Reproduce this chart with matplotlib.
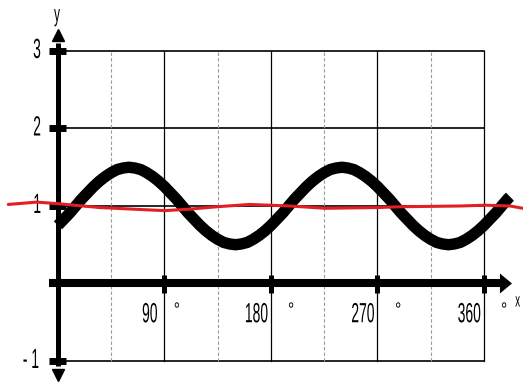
import matplotlib
matplotlib.use("Agg")
import matplotlib.pyplot as plt
from matplotlib import patheffects
from matplotlib.transforms import Affine2D

# === DATA ===
# thick black wave, degrees -> y
wave_x = [0, 5, 10, 15, 20, 25, 30, 35, 40, 45, 50, 55, 60, 65, 70, 75, 80, 85,
          90, 95, 100, 105, 110, 115, 120, 125, 130, 135, 140, 145, 150, 155,
          160, 165, 170, 175, 180, 185, 190, 195, 200, 205, 210, 215, 220, 225,
          230, 235, 240, 245, 250, 255, 260, 265, 270, 275, 280, 285, 290, 295,
          300, 305, 310, 315, 320, 325, 330, 335, 340, 345, 350, 355, 360, 365,
          370, 375, 380, 382]
wave_y = [0.75, 0.83, 0.91, 1.00, 1.09, 1.17, 1.25, 1.32, 1.38, 1.43, 1.47, 1.49,
          1.50, 1.49, 1.47, 1.43, 1.38, 1.32, 1.25, 1.17, 1.09, 1.00, 0.91, 0.83,
          0.75, 0.68, 0.62, 0.57, 0.53, 0.51, 0.50, 0.51, 0.53, 0.57, 0.62, 0.68,
          0.75, 0.83, 0.91, 1.00, 1.09, 1.17, 1.25, 1.32, 1.38, 1.43, 1.47, 1.49,
          1.50, 1.49, 1.47, 1.43, 1.38, 1.32, 1.25, 1.17, 1.09, 1.00, 0.91, 0.83,
          0.75, 0.68, 0.62, 0.57, 0.53, 0.51, 0.50, 0.51, 0.53, 0.57, 0.62, 0.68,
          0.75, 0.83, 0.91, 1.00, 1.09, 1.12]

# thin red hand drawn line
red_x = [-42, -18, 0, 35, 90, 112, 134, 162, 196, 226, 270, 289, 340, 361, 382, 393]
red_y = [1.02, 1.05, 1.03, 0.98, 0.94, 0.96, 0.99, 1.02, 1.00, 0.97, 0.98, 0.99,
         1.00, 1.01, 1.00, 0.97]

x_ticks = [90, 180, 270, 360]
x_labels = ["90", "180", "270", "360"]
x_minor = [45, 135, 225, 315]
y_ticks = [3, 2, 1, -1]
y_labels = ["3", "2", "1", "- 1"]


# condensed look of the original font: squeeze glyphs horizontally
class Squeeze(patheffects.AbstractPathEffect):
    def __init__(self, sx=0.5):
        super().__init__()
        self.sx = sx

    def draw_path(self, renderer, gc, tpath, affine, rgbFace=None):
        bb = tpath.get_extents(affine)
        cx = 0.5 * (bb.x0 + bb.x1)
        a = affine + Affine2D().translate(-cx, 0).scale(self.sx, 1).translate(cx, 0)
        renderer.draw_path(gc, tpath, a, rgbFace)


font = dict(family="Liberation Sans", color="black", ha="center", va="center",
            path_effects=[Squeeze(0.5)])
font_deg = dict(family="Liberation Sans", color="black", ha="center", va="center",
                path_effects=[Squeeze(0.8)])

fig = plt.figure(figsize=(5.23, 3.84), dpi=100)
ax = fig.add_axes([0, 0, 1, 1])
ax.set_xlim(-49.0, 393.0)
ax.set_ylim(-1.297, 3.658)
ax.axis("off")

# === GRID ===
for yv in y_ticks:
    ax.plot([0, 360], [yv, yv], color="black", lw=1.2, zorder=1)
for xv in x_ticks:
    ax.plot([xv, xv], [-1, 3], color="black", lw=0.9, zorder=1)
for xv in x_minor:
    ax.plot([xv, xv], [-1, 3], color="#9a9a9a", lw=0.8, ls=(0, (3, 2)), zorder=1)

# === AXES ===
ax.plot([0, 0], [-1.065, 3.103], color="black", lw=3.6, solid_capstyle="butt", zorder=4)
ax.plot([0], [3.20], marker="^", ms=9, color="black", zorder=4)
ax.plot([0], [-1.18], marker="v", ms=9, color="black", zorder=4)
ax.plot([-7.6, 374], [0, 0], color="black", lw=5.8, solid_capstyle="butt", zorder=4)
ax.fill([373.5, 383.7, 373.5], [0.129, 0, -0.129], color="black", lw=0, zorder=4)

for yv in y_ticks:
    ax.plot([-7.6, 6.8], [yv, yv], color="black", lw=5, solid_capstyle="butt", zorder=5)
for xv in x_ticks:
    ax.plot([xv, xv], [-0.12, 0.11], color="black", lw=3.6, solid_capstyle="butt", zorder=5)

# === CURVES ===
ax.plot(wave_x, wave_y, color="black", lw=8.2, solid_capstyle="butt",
        solid_joinstyle="round", zorder=3)
ax.plot(red_x, red_y, color="#e31e24", lw=2.2, solid_capstyle="round", zorder=6)

# === LABELS ===
for xv, lab in zip(x_ticks, x_labels):
    ax.text(xv - 12.4, -0.41, lab, fontsize=20, **font)
deg_off = [10.5, 17, 17.5, 17]
for xv, d in zip(x_ticks, deg_off):
    ax.text(xv + d, -0.36, "°", fontsize=14, **font_deg)
for yv, lab in zip(y_ticks, y_labels):
    cx = -22.8 if lab.startswith("-") else -17.7
    ax.text(cx, yv, lab, fontsize=20, **font)

ax.text(-0.8, 3.458, "y", fontsize=17, **font)
ax.text(388.5, -0.24, "x", fontsize=14, **font)

fig.savefig("out.png", dpi=100)
